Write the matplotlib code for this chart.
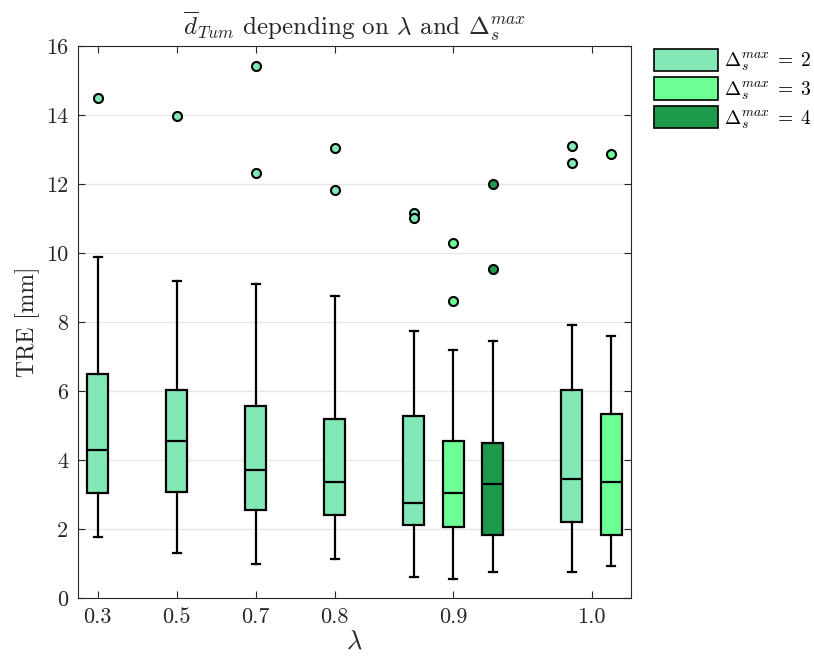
"""
Box plot of TRE for d_Tum, by lambda and Delta_s^max
MATLAB-like look, Computer Modern text.
"""

import matplotlib
matplotlib.use('Agg')
import matplotlib.pyplot as plt
import matplotlib.patches as mpatches

plt.rcParams['font.family'] = 'serif'
plt.rcParams['font.serif'] = ['cmr10', 'DejaVu Serif']
plt.rcParams['mathtext.fontset'] = 'cm'
plt.rcParams['axes.formatter.use_mathtext'] = True

# Data
lambdas = ['0.3', '0.5', '0.7', '0.8', '0.9', '1.0']
deltas = [2, 3, 4]
# one entry per box
box_lambda = ['0.3', '0.5', '0.7', '0.8', '0.9', '0.9', '0.9', '1.0', '1.0']
box_delta = [2, 2, 2, 2, 2, 3, 4, 2, 3]
q1 = [3.03, 3.06, 2.55, 2.40, 2.12, 2.05, 1.82, 2.21, 1.82]
med = [4.28, 4.55, 3.70, 3.36, 2.75, 3.04, 3.31, 3.44, 3.36]
q3 = [6.48, 6.04, 5.57, 5.20, 5.27, 4.54, 4.49, 6.02, 5.32]
whislo = [1.76, 1.31, 0.99, 1.12, 0.61, 0.56, 0.74, 0.76, 0.94]
whishi = [9.88, 9.19, 9.10, 8.76, 7.74, 7.18, 7.46, 7.91, 7.59]
fliers = [[14.50], [13.98], [15.41, 12.31], [13.04, 11.84],
          [11.15, 11.02], [10.28, 8.60], [11.99, 9.53],
          [13.09, 12.60], [12.86]]

colors = {2: '#82E8B6', 3: '#6BFF96', 4: '#1E9A4C'}

# slot positions: boxes of one lambda side by side, one empty slot between groups
positions = []
tick_pos = []
slot = 0
for lam in lambdas:
    n = box_lambda.count(lam)
    group = list(range(slot, slot + n))
    positions += group
    tick_pos.append(sum(group) / n)
    slot += n + 1

stats = []
for i in range(len(box_lambda)):
    stats.append(dict(q1=q1[i], med=med[i], q3=q3[i],
                      whislo=whislo[i], whishi=whishi[i], fliers=fliers[i]))

fig = plt.figure(figsize=(8.14, 6.6), dpi=100)
ax = fig.add_axes([0.0958, 0.0939, 0.6794, 0.8364])

bp = ax.bxp(stats, positions=positions, widths=0.52, capwidths=0.2,
            patch_artist=True, showfliers=True,
            boxprops=dict(edgecolor='black', linewidth=1.6),
            medianprops=dict(color='black', linewidth=1.6),
            whiskerprops=dict(color='black', linewidth=1.6),
            capprops=dict(color='black', linewidth=1.6),
            flierprops=dict(marker='o', markersize=6.5,
                            markeredgecolor='black', markeredgewidth=1.5))

for i, box in enumerate(bp['boxes']):
    box.set_facecolor(colors[box_delta[i]])
    box.set_zorder(3)
for i, fl in enumerate(bp['fliers']):
    fl.set_markerfacecolor(colors[box_delta[i]])
for art in bp['medians'] + bp['whiskers'] + bp['caps'] + bp['fliers']:
    art.set_zorder(4)

ax.set_xlim(-0.5, slot - 1.5)
ax.set_ylim(0, 16)
ax.set_xticks(tick_pos)
ax.set_xticklabels(lambdas, fontsize=16)
ax.set_yticks(range(0, 17, 2))
ax.set_yticklabels([str(v) for v in range(0, 17, 2)], fontsize=16)

ax.yaxis.grid(True, color='#e6e6e6', linewidth=1)
ax.set_axisbelow(True)

ax.tick_params(direction='in', length=5, width=0.8, colors='#262626',
               top=True, right=True, pad=7)
for tl in ax.get_xticklabels() + ax.get_yticklabels():
    tl.set_color('#262626')
for sp in ax.spines.values():
    sp.set_color('#262626')
    sp.set_linewidth(0.8)

ax.set_xlabel(r'$\lambda$', fontsize=19, labelpad=2, color='#262626')
ax.set_ylabel('TRE [mm]', fontsize=17, labelpad=4, color='#262626')
ax.set_title(r'$\overline{d}_{Tum}$ depending on $\lambda$ and $\Delta_s^{max}$',
             fontsize=18, pad=8, color='#262626')

handles = [mpatches.Patch(facecolor=colors[d], edgecolor='black', linewidth=1.2,
                          label=r'$\Delta_s^{max}\;=\;%d$' % d) for d in deltas]
ax.legend(handles=handles, loc='upper left', bbox_to_anchor=(1.042, 0.995),
          frameon=False, fontsize=14, handlelength=3.3, handleheight=1.4,
          handletextpad=0.3, labelspacing=0.2, borderpad=0, borderaxespad=0)

fig.savefig('out.png', dpi=100, facecolor='white')
plt.close(fig)
